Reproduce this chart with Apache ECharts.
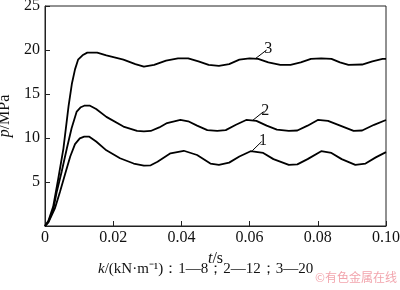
<!DOCTYPE html>
<html><head><meta charset="utf-8">
<script src="https://cdn.jsdelivr.net/npm/echarts@6/dist/echarts.min.js"></script>
<style>html,body{margin:0;padding:0;background:#fff}#c{width:400px;height:290px}</style>
</head><body><div id="c"></div>
<script>
// k = 20 (curve 3)
const t3 = [0, 0.001, 0.0024, 0.0039, 0.0054, 0.0069, 0.0079, 0.0088, 0.0097, 0.011, 0.0124, 0.0153, 0.018, 0.023, 0.0265, 0.029, 0.032, 0.0355, 0.039, 0.042, 0.045, 0.048, 0.051, 0.054, 0.057, 0.060, 0.0625, 0.0655, 0.069, 0.072, 0.075, 0.078, 0.081, 0.084, 0.0865, 0.089, 0.093, 0.096, 0.099, 0.100];
const p3 = [0, 0.6, 2.2, 5.4, 8.8, 13.6, 16.2, 17.8, 18.9, 19.4, 19.7, 19.7, 19.4, 18.9, 18.4, 18.1, 18.3, 18.8, 19.05, 19.05, 18.7, 18.3, 18.2, 18.4, 18.9, 19.05, 19.0, 18.6, 18.3, 18.3, 18.6, 19.0, 19.05, 19.0, 18.6, 18.3, 18.35, 18.7, 19.0, 19.0];
// k = 12 (curve 2)
const t2 = [0, 0.001, 0.0024, 0.0034, 0.0049, 0.0064, 0.0078, 0.0093, 0.0105, 0.0115, 0.0132, 0.015, 0.018, 0.023, 0.027, 0.029, 0.031, 0.0335, 0.0358, 0.0397, 0.042, 0.0446, 0.0476, 0.0505, 0.053, 0.056, 0.059, 0.062, 0.065, 0.068, 0.0715, 0.074, 0.077, 0.080, 0.083, 0.086, 0.0905, 0.093, 0.0965, 0.100];
const p2 = [0, 0.5, 1.8, 3.8, 6.2, 8.8, 11.1, 13.0, 13.5, 13.67, 13.67, 13.3, 12.4, 11.3, 10.8, 10.75, 10.8, 11.2, 11.7, 12.05, 11.9, 11.4, 10.9, 10.8, 10.9, 11.5, 12.05, 11.95, 11.4, 10.95, 10.8, 10.85, 11.4, 12.05, 11.95, 11.5, 10.8, 10.85, 11.5, 12.05];
// k = 8 (curve 1)
const t1 = [0, 0.001, 0.0029, 0.0044, 0.0059, 0.0074, 0.0088, 0.0102, 0.0115, 0.013, 0.015, 0.018, 0.022, 0.026, 0.029, 0.031, 0.033, 0.0368, 0.0407, 0.0446, 0.0485, 0.051, 0.054, 0.057, 0.0603, 0.064, 0.067, 0.0715, 0.074, 0.077, 0.081, 0.084, 0.087, 0.091, 0.094, 0.097, 0.100];
const p1 = [0, 0.4, 2.0, 3.9, 5.9, 7.9, 9.3, 9.95, 10.15, 10.15, 9.6, 8.6, 7.7, 7.1, 6.85, 6.9, 7.3, 8.26, 8.55, 8.07, 7.1, 6.95, 7.2, 7.9, 8.5, 8.3, 7.6, 6.95, 7.0, 7.6, 8.5, 8.3, 7.6, 6.95, 7.1, 7.8, 8.4];
const curveNames = ['1', '2', '3'];
// leader lines (data coords) for curve labels
const leaders = [
  [[0.0608, 8.56], [0.0635, 9.58]],
  [[0.0608, 11.97], [0.0641, 13.0]],
  [[0.0618, 19.05], [0.065, 20.0]]
];
const xTicks = [0, 0.02, 0.04, 0.06, 0.08, 0.10];
const yTicks = [0, 5, 10, 15, 20, 25];

const zip = (a, b) => a.map((v, i) => [v, b[i]]);
const seriesData = [zip(t1, p1), zip(t2, p2), zip(t3, p3)];
const F = 'Liberation Serif, Times New Roman, serif';

const chart = echarts.init(document.getElementById('c'), null, {renderer: 'canvas'});
chart.setOption({
  animation: false,
  grid: {left: 45, right: 14, top: 6, bottom: 64, containLabel: false, outerBoundsMode: 'none',
    show: true, borderColor: '#222', borderWidth: 1},
  xAxis: {
    type: 'value', min: 0, max: 0.10, interval: 0.02,
    axisLine: {lineStyle: {color: '#222', width: 1}},
    axisTick: {inside: true, length: 5, lineStyle: {color: '#222'}},
    splitLine: {show: false},
    axisLabel: {color: '#111', fontFamily: F, fontSize: 16, margin: 4,
      formatter: v => v === 0 ? '0' : v.toFixed(2)},
    name: '{i|t}/s', nameLocation: 'middle', nameGap: 25,
    nameTextStyle: {color: '#111', fontFamily: F, fontSize: 16,
      rich: {i: {fontStyle: 'italic', fontFamily: F, fontSize: 16, color: '#111'}}}
  },
  yAxis: {
    type: 'value', min: 0, max: 25, interval: 5,
    axisLine: {lineStyle: {color: '#222', width: 1}},
    axisTick: {inside: true, length: 5, lineStyle: {color: '#222'}},
    splitLine: {show: false},
    axisLabel: {color: '#111', fontFamily: F, fontSize: 16, margin: 5,
      formatter: v => v === 0 ? '' : String(v)},
    name: '{i|p}/MPa', nameLocation: 'middle', nameGap: 27,
    nameTextStyle: {color: '#111', fontFamily: F, fontSize: 16,
      rich: {i: {fontStyle: 'italic', fontFamily: F, fontSize: 16, color: '#111'}}}
  },
  series: seriesData.map((d, i) => ({
    type: 'line', data: d, showSymbol: false, symbol: 'none',
    lineStyle: {color: '#000', width: 1.8},
    markLine: {
      silent: true, symbol: 'none',
      lineStyle: {color: '#000', width: 1, type: 'solid'},
      label: {show: true, position: 'end', formatter: curveNames[i], color: '#111', fontFamily: F, fontSize: 16, distance: 2},
      data: [[{coord: leaders[i][0]}, {coord: leaders[i][1]}]]
    }
  })),
  graphic: [
    {type: 'text', left: 98, top: 262, style: {
      text: '{i|k}/(kN·m⁻¹)：1—8；2—12；3—20', fill: '#111', font: '15px ' + F,
      rich: {i: {fontStyle: 'italic', fontFamily: F, fontSize: 15, fill: '#111'}}}},
    {type: 'text', right: 3, top: 271, style: {
      text: '©有色金属在线', fill: '#f2a5ad', font: '12px "Noto Sans CJK SC", sans-serif'}}
  ]
});
</script></body></html>
